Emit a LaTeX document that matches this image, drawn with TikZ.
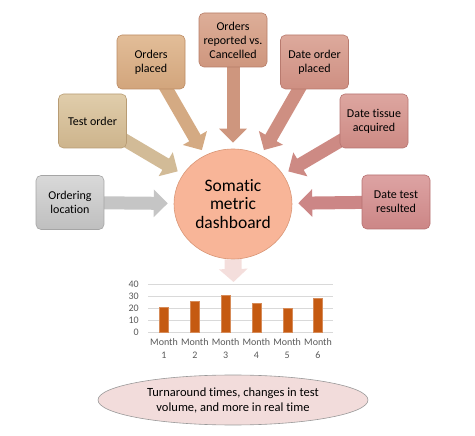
\documentclass[tikz,border=0pt]{standalone}
\usepackage{fontspec}
\setmainfont{Carlito}[Ligatures=NoCommon]
\usetikzlibrary{arrows.meta,shapes.geometric,backgrounds,calc}
\definecolor{locT}{HTML}{D9D9D9}\definecolor{locB}{HTML}{BFBFBF}\definecolor{locD}{HTML}{A5A5A5}
\definecolor{testT}{HTML}{E0CDAB}\definecolor{testB}{HTML}{CDB48C}\definecolor{testD}{HTML}{B89C74}
\definecolor{plT}{HTML}{E2BD98}\definecolor{plB}{HTML}{D2A57C}\definecolor{plD}{HTML}{BC8C64}
\definecolor{repT}{HTML}{DDAE98}\definecolor{repB}{HTML}{CE967E}\definecolor{repD}{HTML}{B77E68}
\definecolor{dpT}{HTML}{DDAA9C}\definecolor{dpB}{HTML}{CE8F82}\definecolor{dpD}{HTML}{B87A6E}
\definecolor{tiT}{HTML}{DDA6A0}\definecolor{tiB}{HTML}{CD8A84}\definecolor{tiD}{HTML}{B67470}
\definecolor{reT}{HTML}{DDA3A3}\definecolor{reB}{HTML}{CC8686}\definecolor{reD}{HTML}{B67070}
\definecolor{circF}{HTML}{F8B598}\definecolor{circD}{HTML}{D99676}
\definecolor{pinkF}{HTML}{F2DCDB}\definecolor{arrPink}{HTML}{F4DEDC}
\definecolor{barC}{HTML}{C55A11}\definecolor{gridC}{HTML}{D9D9D9}\definecolor{axisT}{HTML}{595959}
\tikzset{
  srcbox/.style n args={3}{draw=#3, top color=#1, bottom color=#2, rounded corners=5pt,
    minimum width=68pt, minimum height=54pt, align=center, inner sep=2pt,
    font=\fontsize{12}{14}\selectfont, line width=0.6pt},
  blockarr/.style={draw=#1, line width=13pt, line cap=butt,
    -{Triangle[width=27pt,length=14pt]}, shorten >=6pt},
  axlab/.style={font=\fontsize{10}{12}\selectfont, text=axisT, inner sep=0pt},
  monthlab/.style={font=\fontsize{10}{13}\selectfont, text=axisT, align=center, inner sep=0pt, anchor=north}
}
\begin{document}
\begin{tikzpicture}[x=1pt,y=-1pt]
\useasboundingbox (0,0) rectangle (475,436);
% central circle
\node[ellipse, draw=circD, fill=circF, minimum width=118pt, minimum height=110pt, line width=0.6pt,
  align=center, font=\fontsize{17.5}{18.5}\selectfont] (circ) at (233,204) {Somatic\\metric\\dashboard};
% source boxes
\node[srcbox={locT}{locB}{locD}] (loc) at (70,202.5) {Ordering\\location};
\node[srcbox={testT}{testB}{testD}] (test) at (92.5,121) {Test order};
\node[srcbox={plT}{plB}{plD}] (plc) at (151,62) {Orders\\placed};
\node[srcbox={repT}{repB}{repD}] (rep) at (233,40) {Orders\\reported vs.\\Cancelled};
\node[srcbox={dpT}{dpB}{dpD}] (dop) at (314.5,62) {Date order\\placed};
\node[srcbox={tiT}{tiB}{tiD}] (tis) at (374,121) {Date tissue\\acquired};
\node[srcbox={reT}{reB}{reD}] (res) at (396,202) {Date test\\resulted};
% arrows into the circle
\begin{scope}[on background layer]
\draw[blockarr=locB!90] (loc.center) -- (circ);
\draw[blockarr=testB!90] (test.center) -- (circ);
\draw[blockarr=plB!95] (plc.center) -- (circ);
\draw[blockarr=repB] (rep.center) -- (circ);
\draw[blockarr=dpB] (dop.center) -- (circ);
\draw[blockarr=tiB] (tis.center) -- (circ);
\draw[blockarr=reB] (res.center) -- (circ);
\end{scope}
% chart
\coordinate (chtop) at (233.5,282);
\begin{scope}[on background layer]
\draw[draw=arrPink, line width=17pt, line cap=butt, -{Triangle[width=28pt,length=13pt]}] (circ.south) -- (chtop);
\end{scope}
\foreach \v/\y in {0/332,10/320,20/308,30/296,40/284}{
  \draw[gridC, line width=0.8pt] (148,\y) -- (333,\y);
  \node[axlab, anchor=east] (ax\v) at (139,\y) {\v};
}
\foreach \i/\x/\h in {1/164/21,2/194.8/26,3/225.6/31,4/256.4/24,5/287.2/20,6/318/28}{
  \fill[barC, draw=barC!70!white, line width=0.4pt] (\x-4.5,332) rectangle (\x+4.5,332-1.2*\h);
  \node[monthlab] (m\i) at (\x,338) {Month\\\i};
}
% result ellipse
\node[ellipse, draw=gray!80, fill=pinkF, minimum width=270pt, minimum height=50pt, line width=0.6pt,
  align=center, font=\fontsize{12.5}{15}\selectfont] (res2) at (233,400)
  {Turnaround times, changes in test\\volume, and more in real time};
\end{tikzpicture}
\end{document}
